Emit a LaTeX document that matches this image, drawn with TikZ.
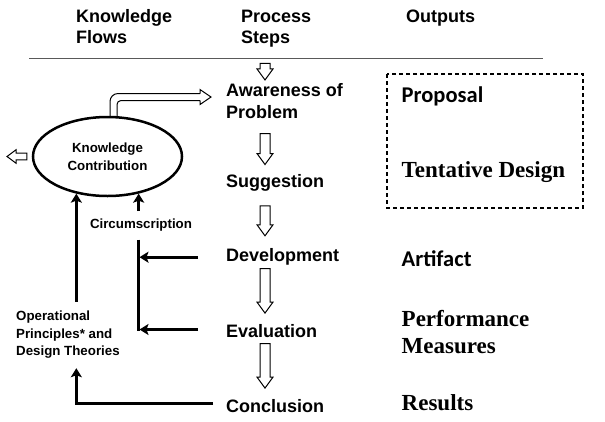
\documentclass[tikz,border=0pt]{standalone}
\usepackage{fontspec}
\setmainfont{Liberation Sans}
\newfontfamily\calibrifont{Carlito}
\newfontfamily\timesfont{Liberation Serif}
\usepackage{tikz}
\usetikzlibrary{arrows.meta,positioning,shapes.geometric,calc}

\begin{document}
\begin{tikzpicture}[x=1pt, y=-1pt,
        head/.style={font=\fontsize{18}{21}\selectfont\bfseries, anchor=base west, align=left, inner sep=0pt},
        stepbox/.style={font=\fontsize{18}{21.5}\selectfont\bfseries, anchor=base west, align=left, inner sep=0pt},
        stepline/.style={stepbox, text height=13pt, text depth=4pt},
        small/.style={font=\fontsize{13.3}{17.5}\selectfont\bfseries, align=left, inner sep=0pt},
        outa/.style={font=\calibrifont\fontsize{22.5}{27}\selectfont\bfseries, anchor=base west, inner sep=0pt},
        outb/.style={font=\timesfont\fontsize{23}{26.5}\selectfont\bfseries, anchor=base west, align=left, inner sep=0pt},
        flow/.style={line width=3pt, -{Stealth[length=9pt,width=11pt,inset=2pt]}},
        hollowline/.style={draw, line width=1pt, line cap=square},
        hollow/.style={to path={let \p1=(\tikztostart), \p2=(\tikztotarget) in
            (\x1-5pt,\y1) -- (\x1-5pt,\y2+11pt) -- (\x1-8pt,\y2+11pt) -- (\x1,\y2)
            -- (\x1+8pt,\y2+11pt) -- (\x1+5pt,\y2+11pt) -- (\x1+5pt,\y1) -- cycle}},
        hollowl/.style={to path={let \p1=(\tikztostart), \p2=(\tikztotarget) in
            (\x1,\y1+3.3pt) -- (\x2+9pt,\y1+3.3pt) -- (\x2+9pt,\y1+6.7pt) -- (\x2,\y2)
            -- (\x2+9pt,\y1-6.7pt) -- (\x2+9pt,\y1-3.3pt) -- (\x1,\y1-3.3pt) -- cycle}}
    ]
    \useasboundingbox (0,0) rectangle (605,421);
    % header (base = last line)
    \node[head] (kf) at (76,43) {Knowledge\\Flows};
    \node[head] (ps) at (241,43) {Process\\Steps};
    \node[head] (op) at (406,22.7) {Outputs};
    \draw[black!65, line width=1.2pt] (29,58.5) -- (543,58.5);
    % process steps
    \node[stepbox] (aw) at (226,118.2) {Awareness of\\Problem};
    \node[stepline] (sg) at (226,187.7) {Suggestion};
    \node[stepline] (dv) at (226,261.7) {Development};
    \node[stepline] (ev) at (226,337) {Evaluation};
    \node[stepline] (cc) at (226,412.7) {Conclusion};
    \coordinate (ax) at (265,0);
    \coordinate (rtop) at (265,63.3);
    \draw[hollowline] (rtop) to[hollow] ([yshift=3.5pt]aw.north -| ax);
    \draw[hollowline] ([yshift=-15pt]aw.south -| ax) to[hollow] ([yshift=10pt]sg.north -| ax);
    \draw[hollowline] ([yshift=-14pt]sg.south -| ax) to[hollow] ([yshift=12.7pt]dv.north -| ax);
    \draw[hollowline] ([yshift=-2.6pt]dv.south -| ax) to[hollow] ([yshift=10.7pt]ev.north -| ax);
    \draw[hollowline] ([yshift=-2.3pt]ev.south -| ax) to[hollow] ([yshift=11.4pt]cc.north -| ax);
    % outputs
    \draw[line width=1.2pt, dash pattern=on 4pt off 3pt] (387,74) rectangle (583,208);
    \node[outa] (prop) at (401.5,102.7) {Proposal};
    \node[outb] (tent) at (401.5,177) {Tentative Design};
    \node[outa] (art) at (401.5,266.7) {Artifact};
    \node[outb] (perf) at (401.5,353.3) {Performance\\Measures};
    \node[outb] (res) at (401.5,410.7) {Results};
    % knowledge flows
    \node[draw, ellipse, line width=2.5pt, minimum width=149pt, minimum height=79pt, small, align=center] (kc) at (107.5,156.5) {Knowledge\\Contribution};
    \coordinate (kout) at (7,156.5);
    \draw[hollowline] ([xshift=-5pt]kc.west) to[hollowl] (kout);
    \draw[hollowline] let \p1=(kc.north), \p2=(aw.west) in
        [rounded corners=8pt] (\x1+2.5pt,\y1-2pt) -- (\x1+2.5pt,\y2+7.5pt) -- (\x2-26pt,\y2+7.5pt)
        [rounded corners=4pt] (\x1+9.5pt,\y1-2pt) -- (\x1+9.5pt,\y2+0.5pt) -- (\x2-26pt,\y2+0.5pt)
        [sharp corners] (\x2-26pt,\y2+7.5pt) -- (\x2-26pt,\y2+11.5pt) -- (\x2-15pt,\y2+4pt)
        -- (\x2-26pt,\y2-3.5pt) -- (\x2-26pt,\y2+0.5pt);
    \node[small, anchor=base] (circ) at (141,228) {Circumscription};
    \node[small, anchor=base west] (ops) at (16,355.7) {Operational\\Principles* and\\Design Theories};
    \coordinate (ctop) at (138,239.5);
    \coordinate (cbot) at (138,331);
    \draw[line width=3pt] (ctop) -- (cbot);
    \draw[flow, shorten >=1.5pt] ([xshift=-28pt]dv.west) -- (dv.west -| ctop);
    \draw[flow, shorten >=1.5pt] ([xshift=-28pt,yshift=3pt]ev.west) -- ([yshift=3pt]ev.west -| ctop);
    \draw[flow] ([yshift=7pt]circ.north -| kc.-50) -- (kc.-50);
    \draw[flow] ([yshift=9pt]ops.north -| kc.230) -- (kc.230);
    \draw[flow] ([xshift=-13pt,yshift=4.5pt]cc.west) -| ([yshift=-9.5pt]ops.south -| kc.230);
\end{tikzpicture}
\end{document}
